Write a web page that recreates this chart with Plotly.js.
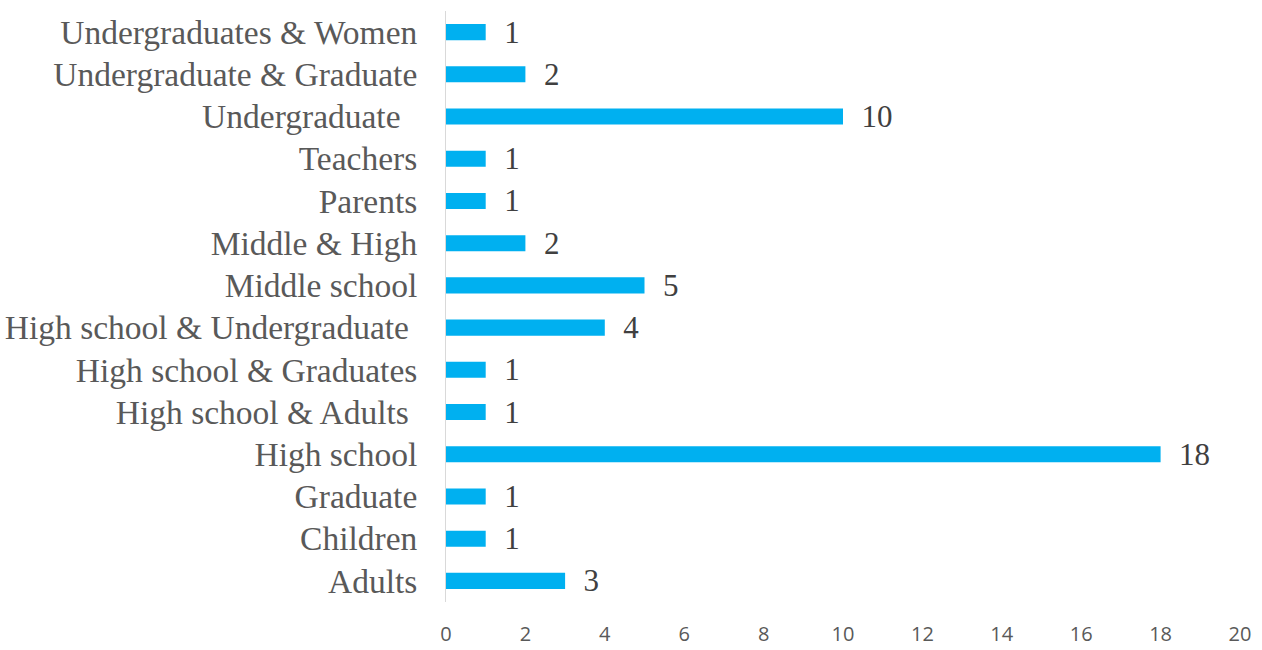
<!DOCTYPE html>
<html><head><meta charset="utf-8">
<script src="https://cdn.plot.ly/plotly-3.0.1.min.js"></script>
<style>body{margin:0;background:#fff}#c{width:1262px;height:650px}</style>
</head><body><div id="c"></div>
<script>
const categories = ["Adults","Children","Graduate","High school","High school & Adults\u00a0","High school & Graduates","High school & Undergraduate\u00a0","Middle school","Middle & High","Parents","Teachers","Undergraduate\u00a0\u00a0","Undergraduate & Graduate","Undergraduates & Women"];
const values = [3,1,1,18,1,1,4,5,2,1,1,10,2,1];
const xTicks = [0,2,4,6,8,10,12,14,16,18,20];

Plotly.newPlot('c', [{
  type:'bar', orientation:'h', y:categories, x:values,
  marker:{color:'#00B0F0'},
  text: values.map(v=>'\u00a0\u00a0'+v), textposition:'outside', cliponaxis:false, constraintext:'none',
  textfont:{family:'Liberation Serif, Times New Roman, serif', size:31, color:'#404040'},
  hoverinfo:'none'
}], {
  width:1262, height:650,
  margin:{l:446, r:22, t:11, b:48},
  paper_bgcolor:'#fff', plot_bgcolor:'#fff',
  bargap:0.62, showlegend:false,
  xaxis:{range:[0,20], tickvals:xTicks, showgrid:false, zeroline:false, showline:false,
    tickfont:{family:'Open Sans, Liberation Sans, sans-serif', size:20, color:'#595959'}, ticks:'', ticklabelstandoff:18, fixedrange:true},
  yaxis:{type:'category', categoryorder:'array', categoryarray:categories, showgrid:false, zeroline:false,
    showline:true, linecolor:'#d9d9d9', linewidth:1, ticks:'', ticklabelstandoff:21,
    tickfont:{family:'Liberation Serif, Times New Roman, serif', size:33.5, color:'#595959'}, fixedrange:true}
}, {staticPlot:true});
</script></body></html>
